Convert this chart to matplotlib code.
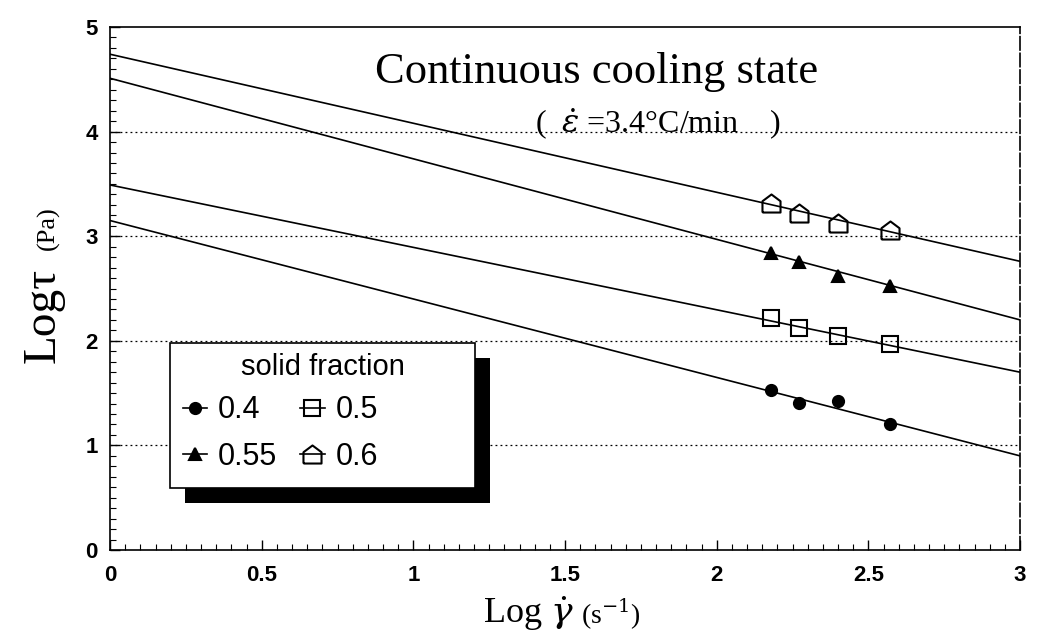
import matplotlib
matplotlib.use("Agg")
import matplotlib.pyplot as plt
from matplotlib.patches import Rectangle
from matplotlib.ticker import MultipleLocator

# measured points (log shear rate, log shear stress)
fractions = ["0.4", "0.5", "0.55", "0.6"]
rate = [2.18, 2.27, 2.40, 2.57]
stress_04 = [1.53, 1.41, 1.42, 1.20]
stress_05 = [2.22, 2.12, 2.05, 1.97]
stress_055 = [2.84, 2.75, 2.62, 2.52]
stress_06 = [3.32, 3.22, 3.13, 3.06]

# fitted lines, value at x=0 and x=3
fit_x = [0, 3]
fit_04 = [3.15, 0.90]
fit_05 = [3.49, 1.70]
fit_055 = [4.51, 2.20]
fit_06 = [4.74, 2.76]

house = [(-1, -1), (1, -1), (1, 0.25), (0, 1), (-1, 0.25), (-1, -1)]

plt.rcParams["font.family"] = ["Liberation Sans", "DejaVu Sans"]
plt.rcParams["mathtext.fontset"] = "dejavuserif"
fig = plt.figure(figsize=(10.4, 6.36), dpi=100)
ax = fig.add_axes([0.1058, 0.1352, 0.875, 0.8223])

series = [
    (stress_04, fit_04, "o", "k", 8),
    (stress_05, fit_05, "s", "none", 11),
    (stress_055, fit_055, "^", "k", 9),
    (stress_06, fit_06, house, "none", 13),
]
handles = []
for (ys, fit, mk, fc, ms), name in zip(series, fractions):
    ax.plot(fit_x, fit, color="k", lw=1.2)
    ax.plot(rate, ys, linestyle="none", marker=mk, markerfacecolor=fc,
            markeredgecolor="k", markersize=ms, markeredgewidth=1.5)
    h, = ax.plot([], [], color="k", lw=1.2, marker=mk, markerfacecolor=fc,
                 markeredgecolor="k", markersize=ms, markeredgewidth=1.5,
                 label=name)
    handles.append(h)

ax.set_xlim(0, 3)
ax.set_ylim(0, 5)
ax.xaxis.set_major_locator(MultipleLocator(0.5))
ax.xaxis.set_minor_locator(MultipleLocator(0.05))
ax.yaxis.set_major_locator(MultipleLocator(1))
ax.yaxis.set_minor_locator(MultipleLocator(0.1))
ax.set_xticks([0, 0.5, 1, 1.5, 2, 2.5, 3], ["0", "0.5", "1", "1.5", "2", "2.5", "3"])
ax.tick_params(which="both", direction="in", labelsize=16)
ax.tick_params(axis="x", which="major", pad=11)
ax.tick_params(axis="y", which="major", pad=9)
ax.tick_params(which="major", length=7, width=1)
ax.tick_params(which="minor", length=4, width=0.8)
for lab in ax.get_xticklabels() + ax.get_yticklabels():
    lab.set_fontweight("bold")
for y in [1, 2, 3, 4]:
    ax.axhline(y, color="k", lw=0.9, ls=(0, (1.5, 2.5)), zorder=0)
ax.spines["right"].set_linestyle((0, (8, 2)))
for s in ax.spines.values():
    s.set_linewidth(1.2)

serif = ["Liberation Serif", "DejaVu Serif"]
ax.text(0.535, 0.893, "Continuous cooling state", transform=ax.transAxes,
        ha="center", va="baseline", fontsize=32, family=serif)
ax.text(0.467, 0.797, r"(  $\dot{\varepsilon}$ =3.4°C/min    )",
        transform=ax.transAxes, ha="left", va="baseline", fontsize=23,
        family=serif)

fig.text(0.464, 0.0205, r"Log $\dot{\gamma}$", ha="left", va="baseline",
         fontsize=26, family=serif)
fig.text(0.559, 0.0205, r"(s$^{-1}$)", ha="left", va="baseline",
         fontsize=20, family=serif)
fig.text(0.053, 0.429, "Logτ", rotation=90, rotation_mode="anchor",
         ha="left", va="baseline", fontsize=34, family=serif)
fig.text(0.052, 0.607, "(Pa)", rotation=90, rotation_mode="anchor",
         ha="left", va="baseline", fontsize=19, family=serif)

# legend box with its heavy offset shadow
box_x0, box_y0, box_w, box_h = 0.066, 0.119, 0.335, 0.277
ax.add_patch(Rectangle((box_x0 + 0.0165, box_y0 - 0.0287), box_w, box_h,
                       transform=ax.transAxes, facecolor="k",
                       edgecolor="none", zorder=4))
ax.add_patch(Rectangle((box_x0, box_y0), box_w, box_h, transform=ax.transAxes,
                       facecolor="white", edgecolor="k", lw=1.2, zorder=5))
ax.text(box_x0 + box_w / 2, 0.350, "solid fraction", transform=ax.transAxes,
        ha="center", va="center", fontsize=21, zorder=7)

order = [handles[0], handles[2], handles[1], handles[3]]
leg = ax.legend(handles=order, labels=[h.get_label() for h in order], ncol=2,
                loc="upper left", bbox_to_anchor=(0.080, 0.296),
                fontsize=22, frameon=False, handlelength=0.8,
                handletextpad=0.35, columnspacing=0.75, labelspacing=0.55,
                borderpad=0, borderaxespad=0)
leg.set_zorder(6)

fig.savefig("out.png", dpi=100)
